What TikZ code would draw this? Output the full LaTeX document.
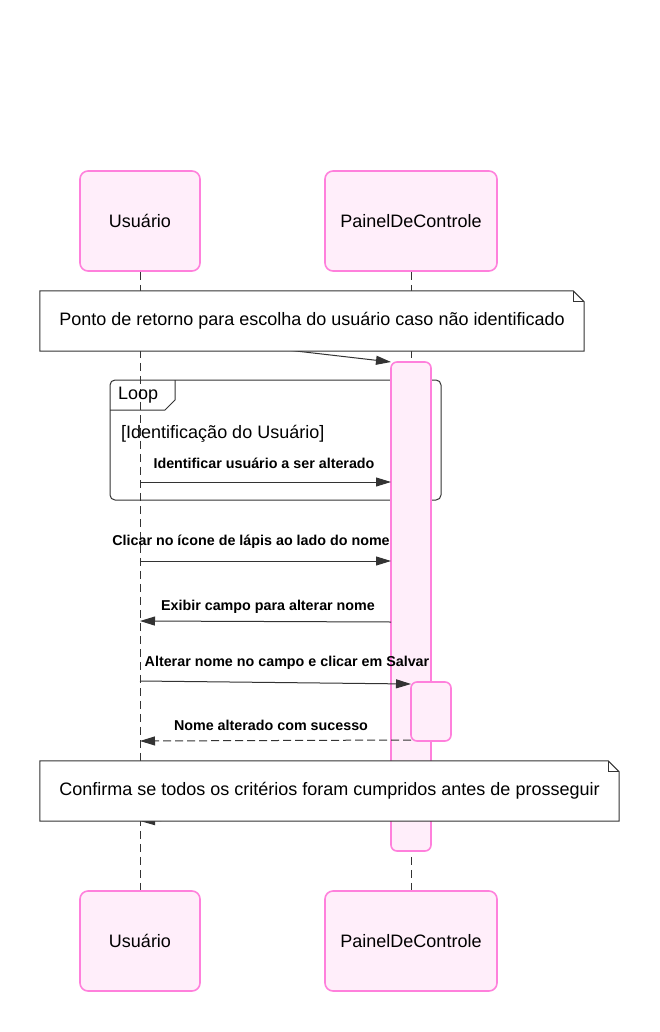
\documentclass[tikz,border=0pt]{standalone}
\usepackage{fontspec}
\setmainfont{Liberation Sans}
\usetikzlibrary{arrows.meta}
\definecolor{actorline}{HTML}{FF80DC}
\definecolor{actorfill}{HTML}{FFEEFA}
\definecolor{ink}{HTML}{333333}
\tikzset{
  actor/.style={draw=actorline, fill=actorfill, line width=1.6pt, rounded corners=8pt,
    minimum height=100pt, font=\fontsize{18}{21}\selectfont},
  lifeline/.style={draw=ink, line width=0.9pt, dash pattern=on 8pt off 5pt},
  activation/.style={draw=actorline, fill=actorfill, line width=1.6pt, rounded corners=6pt},
  msg/.style={draw=ink, line width=1pt, -{Triangle[length=15pt,width=9pt]}},
  replymsg/.style={msg, dash pattern=on 8pt off 4pt},
  msglabel/.style={font=\bfseries\fontsize{14.3}{16}\selectfont, inner sep=0pt},
  bigtext/.style={font=\fontsize{18}{21}\selectfont},
  notebox/.style={minimum height=60pt, inner sep=0pt},
  noteline/.style={draw=ink, fill=white, line width=1pt},
  frame/.style={draw=ink, line width=1pt}
}
\begin{document}
\begin{tikzpicture}[x=1pt,y=-1pt]
  \useasboundingbox (0,0) rectangle (659,1032);

  % participants
  \node[actor, minimum width=120pt] (usr) at (140,221) {Usuário};
  \node[actor, minimum width=172pt] (painel) at (411,221) {PainelDeControle};
  \node[actor, minimum width=120pt] (usrB) at (140,941) {Usuário};
  \node[actor, minimum width=172pt] (painelB) at (411,941) {PainelDeControle};

  % lifelines
  \draw[lifeline] (usr.south) -- (usrB.north);
  \draw[lifeline] (painel.south) -- (painelB.north);

  % loop frame
  \draw[frame, rounded corners=5pt] (110,380) rectangle (441,500);
  \draw[frame] (175,380) -- (175,400) -- (165,410) -- (110,410);
  \node[bigtext, anchor=west, inner sep=0pt] (looplabel) at (118,395) {Loop};
  \node[bigtext, anchor=west, inner sep=0pt] (loopcond) at (121,434) {[Identificação do Usuário]};

  % activations
  \draw[activation] (391,362) rectangle (431,851);
  \coordinate (a1top) at (391,362);
  \draw[activation] (411,682) rectangle (451,741);

  % messages
  \coordinate (u0) at (140,333);
  \draw[msg] (u0) -- (a1top);

  \coordinate (u1) at (140,482);
  \coordinate (p1) at (391,482);
  \draw[msg] (u1) -- (p1);
  \node[msglabel] (m1) at (264,463) {Identificar usuário a ser alterado};

  \coordinate (u2) at (140,561);
  \coordinate (p2) at (391,561);
  \draw[msg] (u2) -- (p2);
  \node[msglabel] (m2) at (251,542) {Clicar no ícone de lápis ao lado do nome};

  \coordinate (p3) at (391,622);
  \coordinate (u3) at (140,621);
  \draw[msg] (p3) -- (u3);
  \node[msglabel] (m3) at (268,607) {Exibir campo para alterar nome};

  \coordinate (u4) at (140,681);
  \coordinate (p4) at (411,684);
  \draw[msg] (u4) -- (p4);
  \node[msglabel] (m4) at (287,663) {Alterar nome no campo e clicar em Salvar};

  \coordinate (p5) at (411,740);
  \coordinate (u5) at (140,741);
  \draw[replymsg] (p5) -- (u5);
  \node[msglabel] (m5) at (271,725) {Nome alterado com sucesso};

  \coordinate (p6) at (391,815);
  \coordinate (u6) at (140,821);
  \draw[msg] (p6) -- (u6);

  % notes
  \node[notebox, minimum width=544pt] (note1) at (312,321) {};
  \draw[noteline] (note1.north west) -- ([xshift=-11pt]note1.north east)
    -- ([yshift=-11pt]note1.north east) -- (note1.south east) -- (note1.south west) -- cycle;
  \draw[draw=ink, line width=1pt] ([xshift=-11pt]note1.north east) -- ([xshift=-11pt,yshift=-11pt]note1.north east)
    -- ([yshift=-11pt]note1.north east);
  \node[bigtext] at (note1.center) {Ponto de retorno para escolha do usuário caso não identificado};

  \node[notebox, minimum width=579pt] (note2) at (329.5,791) {};
  \draw[noteline] (note2.north west) -- ([xshift=-11pt]note2.north east)
    -- ([yshift=-11pt]note2.north east) -- (note2.south east) -- (note2.south west) -- cycle;
  \draw[draw=ink, line width=1pt] ([xshift=-11pt]note2.north east) -- ([xshift=-11pt,yshift=-11pt]note2.north east)
    -- ([yshift=-11pt]note2.north east);
  \node[bigtext] at (note2.center) {Confirma se todos os critérios foram cumpridos antes de prosseguir};
\end{tikzpicture}
\end{document}
